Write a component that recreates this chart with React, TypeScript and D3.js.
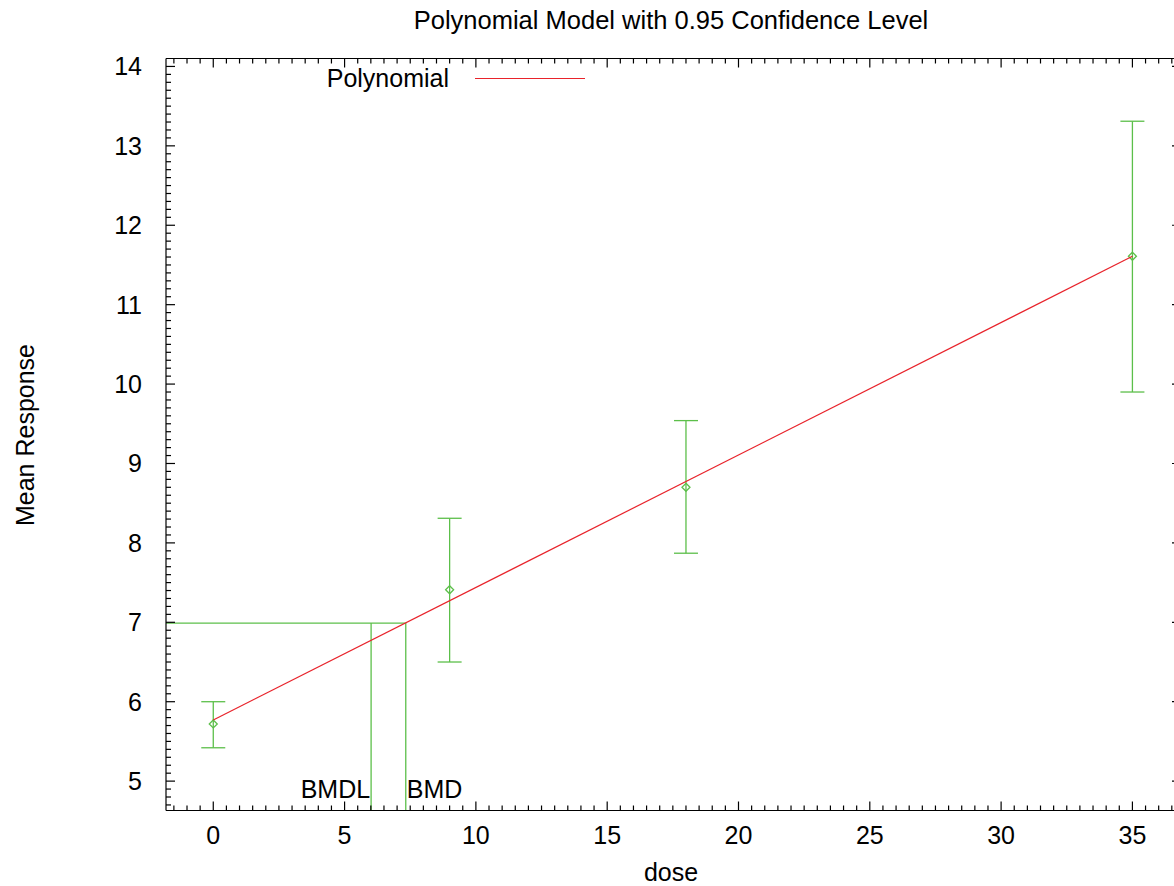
import React from "react";
import * as d3 from "d3";

const doses = [0, 9, 18, 35];
const means = [5.72, 7.41, 8.7, 11.61];
const lowerBars = [5.42, 6.5, 7.87, 9.9];
const upperBars = [6.0, 8.31, 9.54, 13.31];
const fitDose = [0, 35];
const fitMean = [5.77, 11.61];
const bmdValue = 7.33;
const bmdlValue = 6.01;
const bmdResponse = 6.99;
const xTicks = [0, 5, 10, 15, 20, 25, 30, 35];
const yTicks = [5, 6, 7, 8, 9, 10, 11, 12, 13, 14];

const W = 1174;
const H = 886;
const left = 166;
const right = 1181;
const top = 58.5;
const bottom = 810.5;
const green = "#5cbf4a";
const red = "#e8232b";
const font = "'Liberation Sans', Arial, sans-serif";
const fs = 25;

export default function App() {
  const x = d3.scaleLinear().domain([-1.8, 36.85]).range([left, right]);
  const y = d3.scaleLinear().domain([4.63, 14.1]).range([bottom, top]);

  const xMinor = d3.range(-1.5, 36.9, 0.5).filter((v) => Math.abs(v % 5) > 1e-6);
  const yMinor = d3.range(4.7, 14.1, 0.1).filter((v) => Math.abs(v - Math.round(v)) > 1e-6);

  const line = d3
    .line<number>()
    .x((_, i) => x(fitDose[i]))
    .y((d) => y(d));

  const diamond = (cx: number, cy: number) =>
    `M${cx},${cy - 4}L${cx + 4},${cy}L${cx},${cy + 4}L${cx - 4},${cy}Z`;

  return (
    <div style={{ position: "absolute", left: 0, top: 0 }}>
      <svg width={W} height={H} style={{ display: "block", background: "#fff" }} fontFamily={font}>
        <text x={671} y={29} textAnchor="middle" fontSize={25.5} fill="#000">
          Polynomial Model with 0.95 Confidence Level
        </text>
        <g stroke={green} strokeWidth={1.3} fill="none">
          <line x1={left} x2={x(bmdValue)} y1={y(bmdResponse)} y2={y(bmdResponse)} />
          <line x1={x(bmdlValue)} x2={x(bmdlValue)} y1={y(bmdResponse)} y2={bottom} />
          <line x1={x(bmdValue)} x2={x(bmdValue)} y1={y(bmdResponse)} y2={bottom} />
        </g>
        <text x={x(bmdlValue) - 1} y={798} textAnchor="end" fontSize={fs} fill="#000">
          BMDL
        </text>
        <text x={x(bmdValue) + 1} y={798} textAnchor="start" fontSize={fs} fill="#000">
          BMD
        </text>
        <g stroke={green} strokeWidth={1.3} fill="none">
          {doses.map((d, i) => (
            <g key={i}>
              <line x1={x(d)} x2={x(d)} y1={y(lowerBars[i])} y2={y(upperBars[i])} />
              <line x1={x(d) - 12} x2={x(d) + 12} y1={y(lowerBars[i])} y2={y(lowerBars[i])} />
              <line x1={x(d) - 12} x2={x(d) + 12} y1={y(upperBars[i])} y2={y(upperBars[i])} />
              <path d={diamond(x(d), y(means[i]))} />
            </g>
          ))}
        </g>
        <path d={line(fitMean) || ""} stroke={red} strokeWidth={1.2} fill="none" />
        <text x={449} y={87} textAnchor="end" fontSize={fs} fill="#000">
          Polynomial
        </text>
        <line x1={475} x2={585} y1={78.5} y2={78.5} stroke={red} strokeWidth={1.2} />
        <g stroke="#000" strokeWidth={1.2} fill="none">
          <line x1={left} x2={right} y1={top} y2={top} />
          <line x1={left} x2={right} y1={bottom} y2={bottom} />
          <line x1={left} x2={left} y1={top} y2={bottom} />
          <line x1={right} x2={right} y1={top} y2={bottom} />
          {xTicks.map((t) => (
            <g key={"xt" + t}>
              <line x1={x(t)} x2={x(t)} y1={bottom} y2={bottom - 9} />
              <line x1={x(t)} x2={x(t)} y1={top} y2={top + 9} />
            </g>
          ))}
          {xMinor.map((t) => (
            <g key={"xm" + t}>
              <line x1={x(t)} x2={x(t)} y1={bottom} y2={bottom - 5} />
              <line x1={x(t)} x2={x(t)} y1={top} y2={top + 5} />
            </g>
          ))}
          {yTicks.map((t) => (
            <g key={"yt" + t}>
              <line x1={left} x2={left + 9} y1={y(t)} y2={y(t)} />
              <line x1={right} x2={right - 9} y1={y(t)} y2={y(t)} />
            </g>
          ))}
          {yMinor.map((t) => (
            <g key={"ym" + t}>
              <line x1={left} x2={left + 5} y1={y(t)} y2={y(t)} />
              <line x1={right} x2={right - 5} y1={y(t)} y2={y(t)} />
            </g>
          ))}
        </g>
        {xTicks.map((t) => (
          <text key={"xl" + t} x={x(t)} y={844} textAnchor="middle" fontSize={fs} fill="#000">
            {t}
          </text>
        ))}
        {yTicks.map((t) => (
          <text key={"yl" + t} x={142} y={y(t) + 9} textAnchor="end" fontSize={fs} fill="#000">
            {t}
          </text>
        ))}
        <text x={671} y={881} textAnchor="middle" fontSize={fs} fill="#000">
          dose
        </text>
        <text transform={`translate(34,435) rotate(-90)`} textAnchor="middle" fontSize={fs} fill="#000">
          Mean Response
        </text>
      </svg>
    </div>
  );
}
